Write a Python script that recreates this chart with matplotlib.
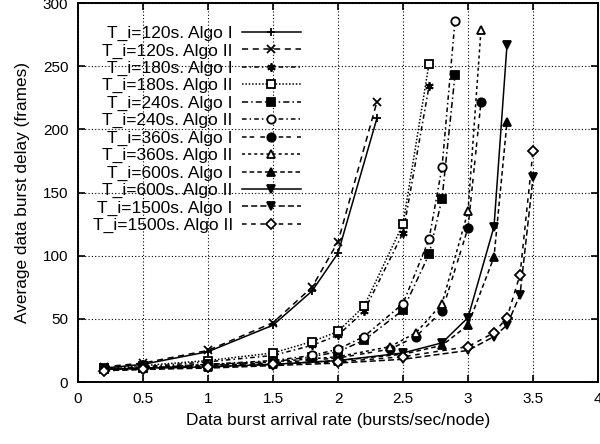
import matplotlib
matplotlib.use("Agg")
from matplotlib import pyplot as plt

plt.rcParams['font.family'] = ['Liberation Sans', 'DejaVu Sans']

# data
x120 = [0.2, 0.5, 1.0, 1.5, 1.8, 2.0, 2.3]
y120_I = [11, 14, 24, 45, 72, 102, 209]
y120_II = [12, 15, 25, 47, 75, 111, 222]

x180 = [0.2, 0.5, 1.0, 1.5, 1.8, 2.0, 2.2, 2.5, 2.7]
y180_I = [10, 12, 16, 21, 29, 37, 56, 118, 234]
y180_II = [11, 13, 17, 23, 32, 40, 60, 125, 252]

x240 = [0.2, 0.5, 1.0, 1.5, 1.8, 2.0, 2.2, 2.5, 2.7, 2.8, 2.9]
y240_I = [10, 11, 14, 16, 20, 24, 33, 57, 101, 145, 243]
y240_II = [10, 12, 14, 17, 21, 26, 36, 62, 113, 170, 286]

x360 = [0.2, 0.5, 1.0, 1.5, 2.0, 2.4, 2.6, 2.8, 3.0, 3.1]
y360_I = [10, 11, 13, 15, 19, 26, 36, 56, 122, 222]
y360_II = [10, 11, 13, 16, 20, 28, 39, 62, 135, 279]

x600 = [0.2, 0.5, 1.0, 1.5, 2.0, 2.5, 2.8, 3.0, 3.2, 3.3]
y600_I = [10, 11, 12, 14, 17, 22, 29, 45, 99, 206]
y600_II = [10, 11, 12, 14, 17, 23, 31, 51, 123, 267]

x1500 = [0.2, 0.5, 1.0, 1.5, 2.0, 2.5, 3.0, 3.2, 3.3, 3.4, 3.5]
y1500_I = [9, 10, 11, 13, 15, 18, 25, 36, 45, 69, 162]
y1500_II = [9, 10, 12, 14, 16, 20, 28, 39, 51, 85, 183]

labels = ["T_i=120s. Algo I", "T_i=120s. Algo II",
          "T_i=180s. Algo I", "T_i=180s. Algo II",
          "T_i=240s. Algo I", "T_i=240s. Algo II",
          "T_i=360s. Algo I", "T_i=360s. Algo II",
          "T_i=600s. Algo I", "T_i=600s. Algo II",
          "T_i=1500s. Algo I", "T_i=1500s. Algo II"]

xticks = [0, 0.5, 1, 1.5, 2, 2.5, 3, 3.5, 4]
yticks = [0, 50, 100, 150, 200, 250, 300]

series = [(x120, y120_I), (x120, y120_II), (x180, y180_I), (x180, y180_II),
          (x240, y240_I), (x240, y240_II), (x360, y360_I), (x360, y360_II),
          (x600, y600_I), (x600, y600_II), (x1500, y1500_I), (x1500, y1500_II)]

# gnuplot-ish styles: (linestyle, marker, filled)
styles = [("-", "+", True),
          ((0, (4, 3)), "x", True),
          ((0, (3, 2, 1, 2)), (6, 2, 0), True),
          ((0, (1, 1.2)), "s", False),
          ((0, (4, 2, 1, 2)), "s", True),
          ((0, (3, 2, 1, 2)), "o", False),
          ((0, (3, 2, 3, 4)), "o", True),
          ((0, (2, 2)), "^", False),
          ((0, (3, 2)), "^", True),
          ("-", "v", True),
          ((0, (4, 2)), "v", True),
          ((0, (3, 3)), "D", False)]

fig = plt.figure(figsize=(6, 4.44), dpi=100)
ax = fig.add_axes([0.13, 0.1396, 0.8667, 0.8536])

for (xs, ys), lab, (ls, mk, filled) in zip(series, labels, styles):
    ms = 5 if mk == "D" else 6
    ax.plot(xs, ys, color="black", linestyle=ls, linewidth=1.1,
            marker=mk, markersize=ms, markeredgewidth=1.3,
            markerfacecolor="black" if filled else "white",
            markeredgecolor="black", label=lab)

ax.set_xlim(0, 4)
ax.set_ylim(0, 300)
ax.set_xticks(xticks)
ax.set_xticklabels(["%g" % v for v in xticks])
ax.set_yticks(yticks)
ax.grid(True, color="black", linestyle=(0, (1, 2)), linewidth=0.8)
ax.tick_params(direction="in", top=True, right=True, length=5, width=1.2,
               labelsize=11, pad=7)
for s in ax.spines.values():
    s.set_linewidth(1.4)

ax.set_xlabel("Data burst arrival rate (bursts/sec/node)", fontsize=12.4, labelpad=5)
ax.set_ylabel("Average data burst delay (frames)", fontsize=12.4, labelpad=9)

leg = ax.legend(loc="upper right", bbox_to_anchor=(0.428, 0.94), frameon=False,
                markerfirst=False, fontsize=12.5, handlelength=3.4,
                labelspacing=0.125, handletextpad=0.5, borderaxespad=0,
                borderpad=0)
# right-align the label text like gnuplot's key
leg._legend_handle_box.get_children()[0].align = "right"

fig.savefig("out.png", dpi=100)
